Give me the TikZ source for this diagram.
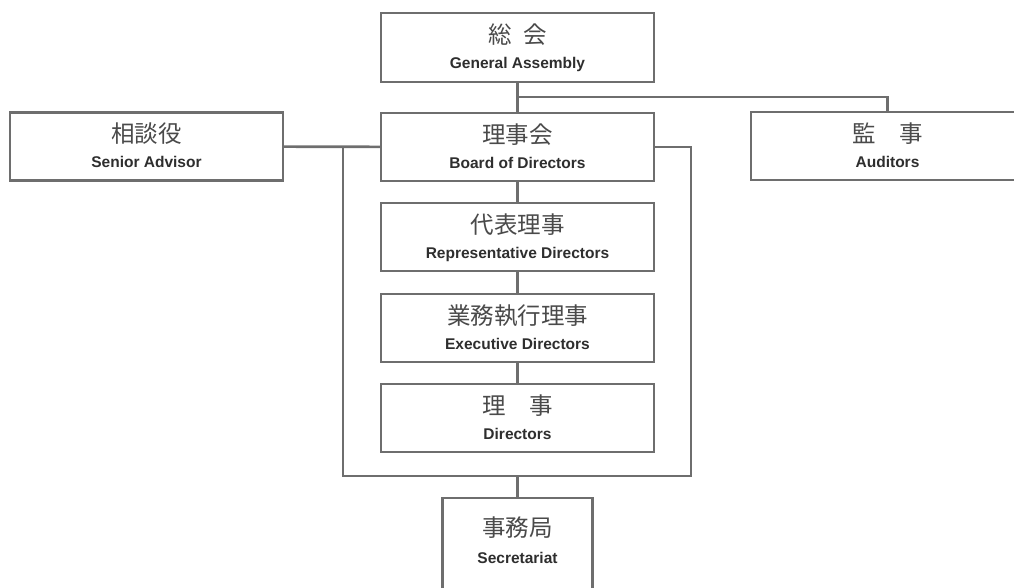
\documentclass[tikz,border=0pt]{standalone}
\usepackage{fontspec}
\setmainfont{Liberation Sans}
\newfontfamily\jpfont{Noto Sans CJK JP}
\usepackage{tikz}
\definecolor{linegray}{HTML}{6E6E6E}
\definecolor{jpgray}{HTML}{4A4A4A}
\definecolor{engray}{HTML}{2E2E2E}
% two-line box text: japanese name above, english name below
\newcommand{\orgtext}[3][3.2pt]{%
  {\jpfont\fontsize{23.5}{25}\selectfont\color{jpgray}\rule{0pt}{21pt}#2}\\%
  {\fontsize{15.5}{25}\selectfont\bfseries\color{engray}#3\rule[-#1]{0pt}{#1}}}

\begin{document}
\begin{tikzpicture}
  [x=1pt,y=-1pt,
   unit/.style={rectangle,draw=linegray,line width=2.2pt,fill=white,align=center,
                font=\fontsize{15}{25}\selectfont,
                outer sep=0,inner sep=0,minimum width=273pt,minimum height=68pt},
   office/.style={unit,minimum width=150pt,minimum height=110pt},
   link/.style={draw=linegray,line width=2.6pt}]
  \useasboundingbox (0,0) rectangle (1014,588);
  \clip (0,0) rectangle (1014,588);
  \node[unit,minimum height=69pt] (GA) at (517.5,47.5) {\orgtext{総\hspace{0.5em}会}{General Assembly}};
  \node[unit] (B) at (517.5,147) {\orgtext{理事会}{Board of Directors}};
  \node[unit] (SA) at (146.5,146.5) {\orgtext{相談役}{Senior Advisor}};
  \node[unit] (AU) at (887.5,146) {\orgtext{監\hspace{1em}事}{Auditors}};
  \node[unit] (R) at (517.5,237) {\orgtext{代表理事}{Representative Directors}};
  \node[unit] (E) at (517.5,328) {\orgtext{業務執行理事}{Executive Directors}};
  \node[unit] (D) at (517.5,418) {\orgtext{理\hspace{1em}事}{Directors}};
  \node[office,font=\fontsize{15}{27}\selectfont] (S) at (517.5,553) {\orgtext[27.2pt]{事務局}{Secretariat}};
  \coordinate (branch) at (517.5,97);
  \coordinate (loopl) at (343,476);
  \coordinate (loopr) at (691,476);
  \coordinate (loopm) at (517.5,476);
  \draw[link] (GA) to (B);
  \draw[link] (branch) -| (AU);
  \draw[link] (SA) to (B);
  \draw[link] (loopl |- SA.east) -- (loopl) -- (loopr) -- (loopr |- B.east) -- (B.east);
  \draw[link] (B) to (R);
  \draw[link] (R) to (E);
  \draw[link] (E) to (D);
  \draw[link] (loopm) to (S);
\end{tikzpicture}
\end{document}
